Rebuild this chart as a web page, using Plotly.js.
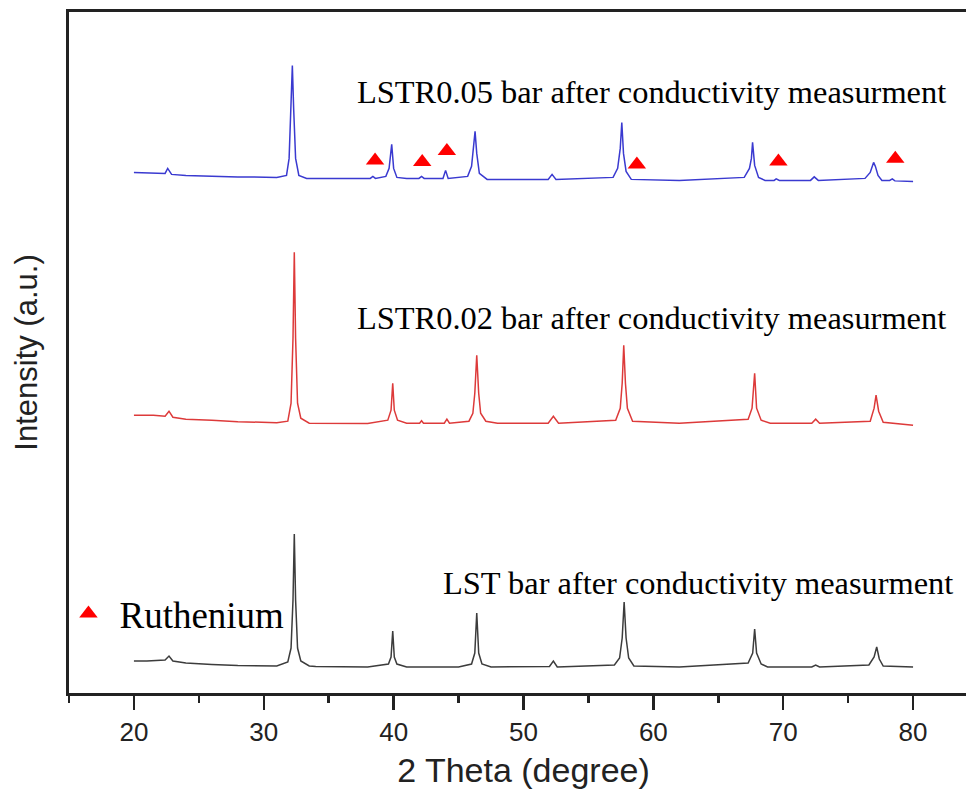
<!DOCTYPE html>
<html>
<head>
<meta charset="utf-8">
<script src="https://cdn.plot.ly/plotly-3.0.1.min.js"></script>
<style>
html, body { margin: 0; padding: 0; overflow: hidden; background: #fff; }
#chart { width: 1000px; height: 791px; }
</style>
</head>
<body>
<div id="chart"></div>
<script>
// ---- Data (2 Theta in degrees, intensity in arbitrary units, patterns stacked) ----
var lstTheta = [20, 21, 22.4, 22.7, 23.0, 24, 26, 28, 31, 31.85, 32.1, 32.25, 32.35, 32.45, 32.6, 32.85, 33.5,
  34, 38, 39.6, 39.8, 39.93, 40.05, 40.25, 41, 45, 46.0, 46.25, 46.4, 46.55, 46.8, 47.5,
  52, 52.3, 52.6, 57, 57.4, 57.6, 57.75, 57.9, 58.1, 58.5, 62, 67.3, 67.65, 67.8, 67.95, 68.3, 68.8,
  72.2, 72.5, 72.8, 76.6, 77.0, 77.2, 77.4, 77.7, 80];
var lstIntensity = [32, 32, 33, 37, 32, 30, 28.5, 27.5, 27, 31, 45, 93, 159, 93, 45, 32, 27,
  26.5, 26, 29, 36, 62, 36, 29, 26, 26, 29, 40, 80, 40, 29, 26,
  26.5, 32, 26, 28, 35, 55, 91, 55, 35, 27, 26, 30, 40, 64, 40, 29, 26,
  26, 28, 26, 28, 36, 46, 34, 27, 26];

var lstr002Theta = [20, 21.5, 22.4, 22.7, 23.0, 24, 26, 28, 31, 31.85, 32.1, 32.25, 32.35, 32.45, 32.6, 32.85, 33.5,
  38, 39.55, 39.8, 39.93, 40.05, 40.3, 41, 42.0, 42.15, 42.3, 43.9, 44.1, 44.3,
  45.8, 46.1, 46.25, 46.4, 46.55, 46.7, 47.1, 48, 51.9, 52.3, 52.7,
  57.1, 57.45, 57.6, 57.72, 57.85, 58.0, 58.4, 62, 67.3, 67.6, 67.8, 67.95, 68.3, 69,
  72.2, 72.5, 72.8, 76.7, 77.0, 77.15, 77.35, 77.7, 80];
var lstr002Intensity = [278, 278, 277, 282, 276, 274, 273, 271.5, 270.5, 272, 290, 355, 441, 355, 290, 275, 270,
  269.7, 273, 283, 310, 283, 273, 270, 270, 272.5, 270, 270, 274, 270,
  272, 280, 300, 338, 300, 280, 272, 270, 270, 277, 270,
  273, 285, 310, 348, 310, 285, 272, 270, 274, 285, 320, 285, 273, 270,
  270, 274, 270, 272, 285, 298, 282, 271, 268];

var lstr005Theta = [20, 21.5, 22.4, 22.6, 22.9, 24, 26, 28, 31, 31.75, 31.95, 32.1, 32.2, 32.3, 32.45, 32.7, 33.3,
  38.2, 38.4, 38.6, 39.4, 39.65, 39.85, 40.0, 40.25, 41, 41.95, 42.15, 42.35, 43.8, 44.0, 44.2,
  45.7, 46.0, 46.15, 46.27, 46.4, 46.6, 47.2, 51.9, 52.2, 52.5,
  56.9, 57.25, 57.45, 57.57, 57.7, 57.9, 58.3, 62, 67.0, 67.4, 67.55, 67.64, 67.8, 68.1, 68.6,
  69.3, 69.46, 69.7, 72.1, 72.39, 72.7, 76.3, 76.7, 76.96, 77.1, 77.3, 77.6, 78.2, 78.4, 78.6, 80];
var lstr005Intensity = [521, 520.5, 520, 525, 519, 518, 517, 516.5, 516, 518, 535, 585, 628, 585, 535, 518, 515,
  515, 517, 515, 517, 525, 549, 525, 516, 515, 515, 517, 515, 515, 523, 515,
  517, 527, 545, 562, 540, 520, 514, 514, 519, 514,
  516, 525, 545, 571, 540, 522, 514, 513, 516, 525, 535, 551, 528, 516, 513,
  513, 514.5, 513, 513, 516.5, 513, 515, 521, 531, 527, 518, 513, 513, 514.5, 512.5, 512];

// Ruthenium reflections marked on the LSTR0.05 pattern
var ruTheta = [38.57, 42.2, 44.1, 58.73, 69.63, 78.63];
var ruMark = [533, 531.3, 542.5, 529, 532, 534.7];

var xTickVals = [20, 30, 40, 50, 60, 70, 80];
var labels = ["LSTR0.05 bar after conductivity measurment",
              "LSTR0.02 bar after conductivity measurment",
              "LST bar after conductivity measurment"];

// ---- Traces ----
var traces = [
  {x: lstTheta, y: lstIntensity, type: 'scatter', mode: 'lines', name: 'LST',
   line: {color: '#3c3c3c', width: 1.5}, showlegend: false},
  {x: lstr002Theta, y: lstr002Intensity, type: 'scatter', mode: 'lines', name: 'LSTR0.02',
   line: {color: '#dd3a3a', width: 1.5}, showlegend: false},
  {x: lstr005Theta, y: lstr005Intensity, type: 'scatter', mode: 'lines', name: 'LSTR0.05',
   line: {color: '#3a3ad0', width: 1.5}, showlegend: false},
  {x: ruTheta, y: ruMark, type: 'scatter', mode: 'markers', name: 'Ruthenium',
   marker: {symbol: 'triangle-up', size: 16, color: '#ff0000', line: {width: 0}}, showlegend: true}
];

var serif = 'Liberation Serif, Times New Roman, serif';
var sans = 'Liberation Sans, Arial, sans-serif';

var layout = {
  width: 1000, height: 791,
  margin: {l: 69, r: 22.4, t: 11.5, b: 98, pad: 0},
  paper_bgcolor: '#ffffff', plot_bgcolor: '#ffffff',
  showlegend: true,
  legend: {x: -0.0127, y: 0.116, xanchor: 'left', yanchor: 'middle', bgcolor: 'rgba(0,0,0,0)',
    font: {family: serif, size: 37, color: '#000'}, itemwidth: 52},
  xaxis: {
    range: [15, 85], tickvals: xTickVals, ticktext: xTickVals.map(String),
    ticks: 'outside', ticklen: 14, tickwidth: 2.5, tickcolor: '#222',
    minor: {dtick: 5, tick0: 0, ticks: 'outside', ticklen: 7, tickwidth: 2.5, tickcolor: '#222', showgrid: false},
    showline: true, mirror: true, linewidth: 3, linecolor: '#222',
    showgrid: false, zeroline: false,
    tickfont: {family: sans, size: 26, color: '#222'},
    title: {text: '2 Theta (degree)', font: {family: sans, size: 34, color: '#222'}, standoff: 12}
  },
  yaxis: {
    range: [0, 681.5], showticklabels: false, ticks: '',
    showline: true, mirror: true, linewidth: 3, linecolor: '#222',
    showgrid: false, zeroline: false,
    title: {text: 'Intensity (a.u.)', font: {family: sans, size: 31, color: '#222'}, standoff: 20}
  },
  annotations: [
    {xref: 'x', yref: 'paper', x: 82.72, y: 0.882, xanchor: 'right', yanchor: 'middle', showarrow: false,
     text: labels[0], font: {family: serif, size: 32.4, color: '#000'}},
    {xref: 'x', yref: 'paper', x: 82.72, y: 0.5505, xanchor: 'right', yanchor: 'middle', showarrow: false,
     text: labels[1], font: {family: serif, size: 32.4, color: '#000'}},
    {xref: 'x', yref: 'paper', x: 83.26, y: 0.1615, xanchor: 'right', yanchor: 'middle', showarrow: false,
     text: labels[2], font: {family: serif, size: 32.4, color: '#000'}}
  ]
};

Plotly.newPlot('chart', traces, layout, {displayModeBar: false, staticPlot: true});
</script>
</body>
</html>
